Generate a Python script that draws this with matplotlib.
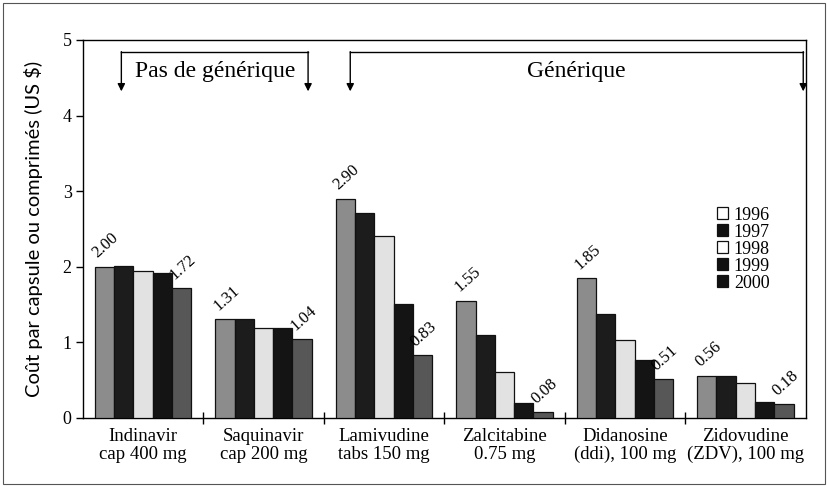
import matplotlib.pyplot as plt
import matplotlib.patches as mpatches
import numpy as np

# ---------------------------------------------------------------------------
# Data
# ---------------------------------------------------------------------------
drugs = [
    "Indinavir\ncap 400 mg",
    "Saquinavir\ncap 200 mg",
    "Lamivudine\ntabs 150 mg",
    "Zalcitabine\n0.75 mg",
    "Didanosine\n(ddi), 100 mg",
    "Zidovudine\n(ZDV), 100 mg",
]
years = ["1996", "1997", "1998", "1999", "2000"]

cost_1996 = [2.00, 1.31, 2.90, 1.55, 1.85, 0.56]
cost_1997 = [2.01, 1.31, 2.71, 1.09, 1.38, 0.56]
cost_1998 = [1.94, 1.19, 2.40, 0.60, 1.03, 0.46]
cost_1999 = [1.91, 1.19, 1.51, 0.19, 0.76, 0.21]
cost_2000 = [1.72, 1.04, 0.83, 0.08, 0.51, 0.18]

# ---------------------------------------------------------------------------
# Style
# ---------------------------------------------------------------------------
BAR_COLORS = ["#8c8c8c", "#1c1c1c", "#e2e2e2", "#141414", "#575757"]
LEGEND_FACES = ["white", "#111111", "white", "#111111", "#111111"]
SERIF = ["Liberation Serif", "DejaVu Serif"]

fig = plt.figure(figsize=(8.28, 4.87), dpi=100)
fig.patch.set_facecolor("white")
ax = fig.add_axes([0.100, 0.142, 0.873, 0.776])

series = [cost_1996, cost_1997, cost_1998, cost_1999, cost_2000]
n_groups = len(drugs)
bar_w = 0.16
centers = np.arange(n_groups) + 0.5

for j, vals in enumerate(series):
    xs = centers + (j - 2) * bar_w
    ax.bar(xs, vals, width=bar_w, color=BAR_COLORS[j],
           edgecolor="#111111", linewidth=0.9, zorder=3)

# value labels on first and last year
for j in (0, 4):
    xs = centers + (j - 2) * bar_w
    for x, v in zip(xs, series[j]):
        ax.text(x - 0.035, v + 0.07, f"{v:.2f}", rotation=42,
                ha="left", va="bottom", fontsize=12, family=SERIF,
                rotation_mode="anchor", zorder=4)

ax.set_xlim(0, n_groups)
ax.set_ylim(0, 5)
ax.set_yticks(range(6))
ax.set_yticklabels([str(i) for i in range(6)], family=SERIF, fontsize=13)
ax.set_xticks(np.arange(1, n_groups))
ax.set_xticklabels([])
ax.set_xticks(centers, minor=True)
ax.set_xticklabels(drugs, minor=True, family=SERIF, fontsize=13.5,
                   linespacing=1.1)
ax.tick_params(axis="x", which="minor", length=0, pad=7)
ax.tick_params(axis="x", which="major", direction="inout", length=8, width=1)
ax.tick_params(axis="y", direction="out", length=5, width=1, pad=3)
for s in ax.spines.values():
    s.set_linewidth(1.0)

ax.set_ylabel("Coût par capsule ou comprimés (US $)", fontsize=14.5,
              family=["Lato", "DejaVu Sans"], labelpad=14)

# brackets
def bracket(x0, x1, label, tx):
    ytop, ytip = 4.84, 4.32
    ax.plot([x0, x1], [ytop, ytop], color="black", lw=1.0, zorder=5,
            clip_on=False)
    for x in (x0, x1):
        ax.annotate("", xy=(x, ytip), xytext=(x, ytop + 0.005),
                    arrowprops=dict(arrowstyle="-|>", color="black", lw=1.0,
                                    mutation_scale=11, shrinkA=0, shrinkB=0))
    ax.text(tx, 4.58, label, ha="center", va="center", fontsize=17,
            family=SERIF)

bracket(0.32, 1.87, "Pas de générique", 1.10)
bracket(2.22, 5.98, "Générique", 4.10)

# legend
handles = [mpatches.Patch(facecolor=LEGEND_FACES[j], edgecolor="#111111",
                          linewidth=0.9, label=years[j]) for j in range(5)]
ax.legend(handles=handles, loc="upper left", bbox_to_anchor=(0.867, 0.578),
          frameon=False, prop={"family": SERIF, "size": 13},
          handlelength=0.65, handleheight=0.65, handletextpad=0.3,
          labelspacing=0.0, borderaxespad=0)

# outer frame of the figure
fig.add_artist(mpatches.Rectangle((0.004, 0.006), 0.992, 0.988,
                                  transform=fig.transFigure, fill=False,
                                  edgecolor="#555555", linewidth=0.8))

fig.savefig("out.png", dpi=100, facecolor="white")
